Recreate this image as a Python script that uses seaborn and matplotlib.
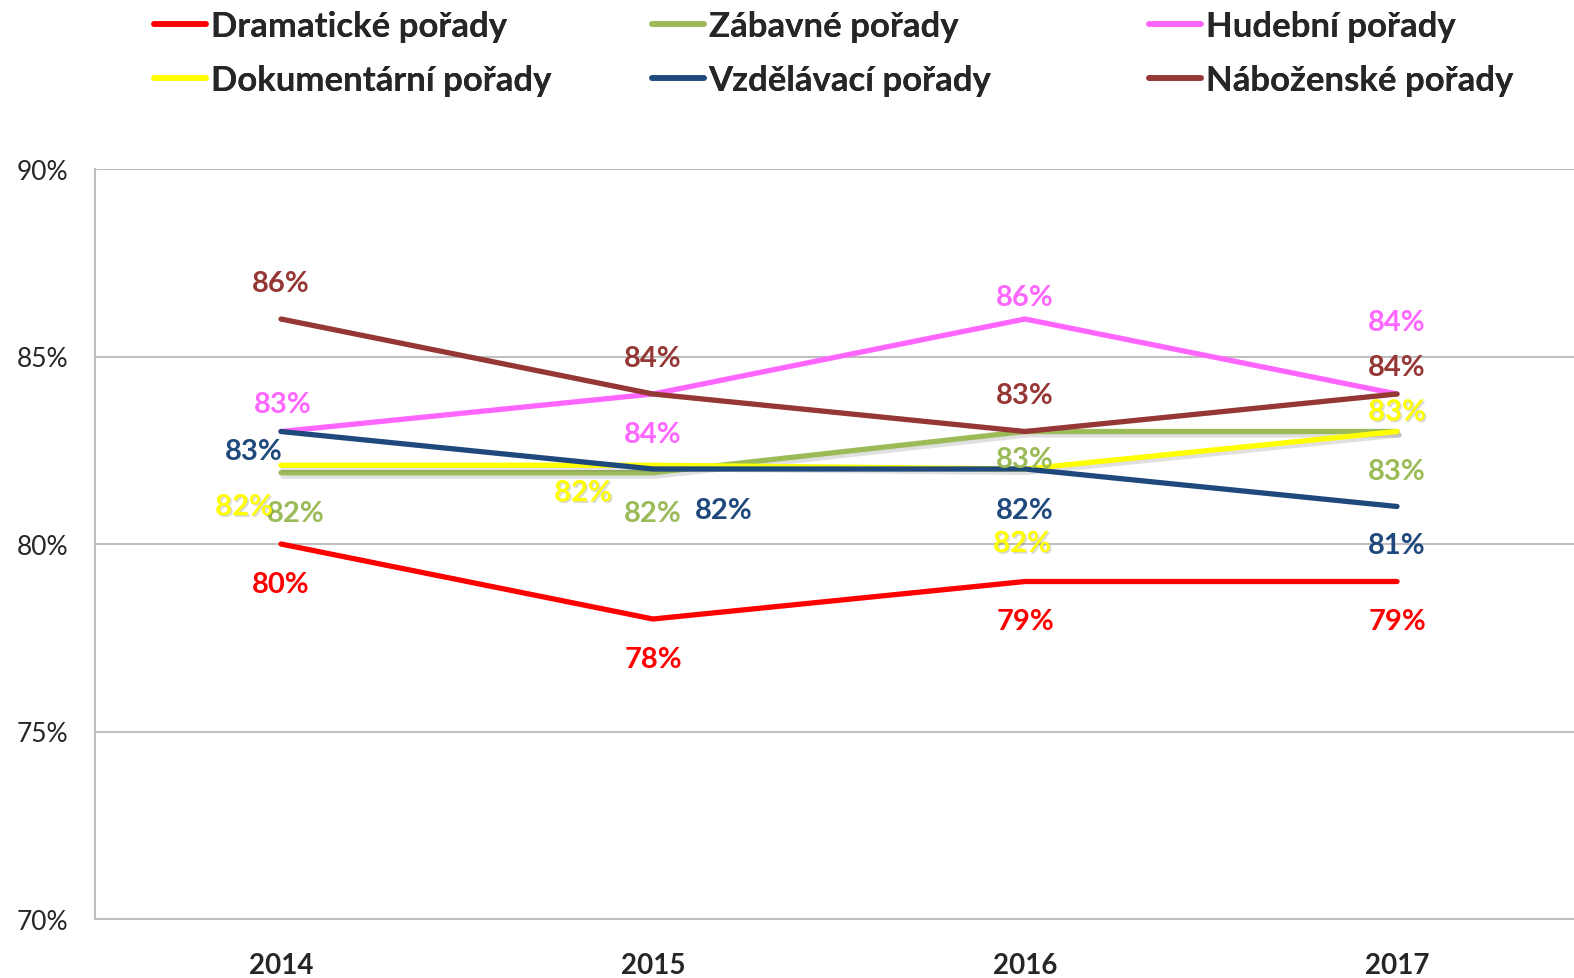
import numpy as np
import pandas as pd
import seaborn as sns
import matplotlib.pyplot as plt
import matplotlib.patheffects as pe
from matplotlib.lines import Line2D

years = [2014, 2015, 2016, 2017]
dramaticke = [80, 78, 79, 79]
zabavne = [81.9, 81.9, 83, 83]
hudebni = [83, 84, 86, 84]
dokumentarni = [82.1, 82.1, 82, 83]
vzdelavaci = [83, 82, 82, 81]
nabozenske = [86, 84, 83, 84]

names = ["Dramatické pořady", "Zábavné pořady", "Hudební pořady",
         "Dokumentární pořady", "Vzdělávací pořady", "Náboženské pořady"]
values = [dramaticke, zabavne, hudebni, dokumentarni, vzdelavaci, nabozenske]
label_vals = [[80, 78, 79, 79], [82, 82, 83, 83], [83, 84, 86, 84],
              [82, 82, 82, 83], [83, 82, 82, 81], [86, 84, 83, 84]]
colors = ["#FF0000", "#9BBB59", "#FF66FF", "#FFFF00", "#1F497D", "#953735"]

# label offsets in pixels (dx, dy) per series / year
offsets = [
    [(0, -40), (0, -40), (0, -40), (0, -40)],
    [(15, -40), (0, -40), (0, -28), (0, -40)],
    [(2, 27), (0, -40), (0, 22), (0, 72)],
    [(-37, -42), (-70, -28), (-3, -75), (0, 19)],
    [(-27, -20), (71, -41), (0, -41), (0, -39)],
    [(0, 36), (0, 36), (0, 36), (0, 27)],
]

rows = []
for n, v in zip(names, values):
    for y, val in zip(years, v):
        rows.append({"rok": y, "podil": val, "porad": n})
df = pd.DataFrame(rows)

sns.set_style("white")
plt.rcParams['font.family'] = ['Lato', 'DejaVu Sans']

fig = plt.figure(figsize=(15.74, 9.79), dpi=100)
ax = fig.add_axes([95 / 1574, 59 / 979, 1488 / 1574, 750 / 979])

line_shadow = [pe.SimpleLineShadow(offset=(1.5, -2.5), alpha=0.12), pe.Normal()]
text_shadow = [pe.SimplePatchShadow(offset=(1.2, -1.2), alpha=0.2), pe.Normal()]

sns.lineplot(data=df, x="rok", y="podil", hue="porad", hue_order=names,
             palette=dict(zip(names, colors)), linewidth=3.8, ax=ax, legend=False,
             sort=False, solid_capstyle="round")
for line in ax.lines:
    if line.get_color().lower() in ("#ffff00", "#9bbb59"):
        line.set_path_effects(line_shadow)

for i, n in enumerate(names):
    for j, y in enumerate(years):
        eff = text_shadow if colors[i] == "#FFFF00" else None
        ax.annotate(f"{label_vals[i][j]}%", (y, values[i][j]),
                    xytext=offsets[i][j], textcoords="offset pixels",
                    ha="center", va="center", fontsize=21, fontweight="bold",
                    color=colors[i], path_effects=eff)

ax.set_xlim(2013.5, 2017.5)
ax.set_ylim(70, 90)
ax.set_yticks([70, 75, 80, 85, 90])
ax.set_yticklabels(["70%", "75%", "80%", "85%", "90%"], fontsize=19)
ax.set_xticks(years)
ax.set_xticklabels([str(y) for y in years], fontsize=20, fontweight="bold")
ax.tick_params(axis="y", length=0, pad=19)
ax.tick_params(axis="x", length=0, pad=24)
ax.yaxis.grid(True, color="#BFBFBF", linewidth=1.5)
ax.set_axisbelow(True)
ax.set_xlabel("")
ax.set_ylabel("")
for s in ["top", "right"]:
    ax.spines[s].set_visible(False)
for s in ["left", "bottom"]:
    ax.spines[s].set_color("#BFBFBF")
    ax.spines[s].set_linewidth(1.5)

# legend: three columns of fixed width
col_x = [137 / 1574, 635 / 1574, 1132 / 1574]
for k in range(3):
    handles = [Line2D([], [], color=colors[k], linewidth=4, solid_capstyle="round"),
               Line2D([], [], color=colors[k + 3], linewidth=4, solid_capstyle="round")]
    leg = fig.legend(handles, [names[k], names[k + 3]], loc="upper left",
                     bbox_to_anchor=(col_x[k], 1.006), frameon=False,
                     prop={"size": 25, "weight": "bold"}, handlelength=1.5,
                     handletextpad=0.12, labelspacing=0.62, borderaxespad=0.1)
    fig.add_artist(leg)

fig.savefig("out.png", dpi=100)
